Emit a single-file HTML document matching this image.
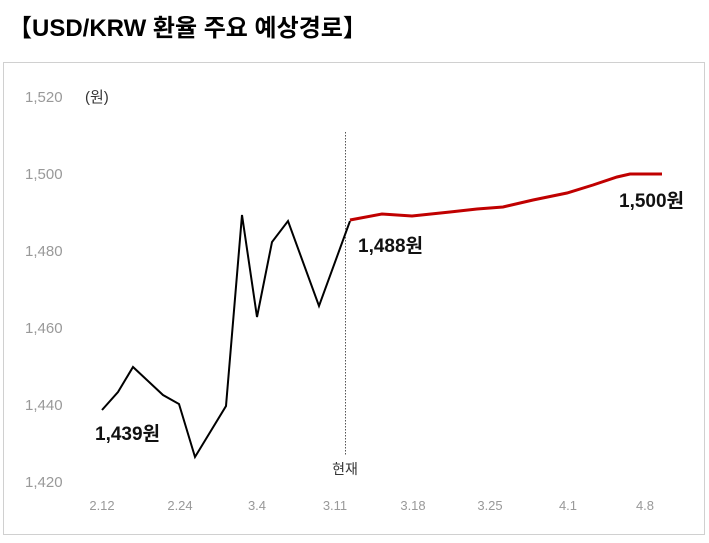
<!DOCTYPE html>
<html><head><meta charset="utf-8"><style>
body{margin:0;background:#fff;width:709px;height:538px;overflow:hidden;font-family:"Liberation Sans","Noto Sans CJK KR",sans-serif}
</style></head><body>
<svg width="709" height="538" xmlns="http://www.w3.org/2000/svg" style="font-family:'Liberation Sans','Noto Sans CJK KR',sans-serif">
<text x="8" y="36" font-size="24" font-weight="bold" fill="#000">【USD/KRW 환율 주요 예상경로】</text>
<rect x="3.5" y="62.5" width="701" height="472" fill="none" stroke="#d0d0d0"/>
<g font-size="15" fill="#999">
<text x="25" y="102">1,520</text><text x="85" y="102" fill="#333">(원)</text>
<text x="25" y="179">1,500</text>
<text x="25" y="256">1,480</text>
<text x="25" y="333">1,460</text>
<text x="25" y="410">1,440</text>
<text x="25" y="487">1,420</text>
</g>
<g font-size="13" fill="#999" text-anchor="middle">
<text x="102" y="510">2.12</text><text x="180" y="510">2.24</text><text x="257" y="510">3.4</text><text x="335" y="510">3.11</text><text x="413" y="510">3.18</text><text x="490" y="510">3.25</text><text x="568" y="510">4.1</text><text x="645" y="510">4.8</text>
</g>
<line x1="345.5" y1="132" x2="345.5" y2="456" stroke="#555" stroke-dasharray="1.5,1.5"/>
<text x="345" y="474" font-size="14" fill="#333" text-anchor="middle">현재</text>
<polyline fill="none" stroke="#000" stroke-width="2" stroke-linejoin="miter" points="102,410 118,392 133,367 163,395 179,404 195,457 226,406 242,215 257,317 272,242 288,221 319,306 350,221"/>
<polyline fill="none" stroke="#c00000" stroke-width="3" points="350,220 382,214 412,216 450,212 477,209 503,207 533,200 567,193 593,185 617,177 630,174 662,174"/>
<g font-size="19" font-weight="bold" fill="#111">
<text x="95" y="440">1,439원</text>
<text x="358" y="252">1,488원</text>
<text x="619" y="207">1,500원</text>
</g>
</svg>
</body></html>
